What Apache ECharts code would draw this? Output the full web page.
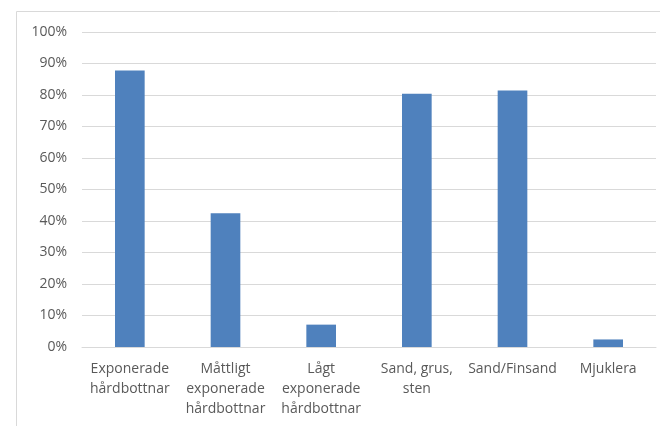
<!DOCTYPE html>
<html>
<head>
<meta charset="utf-8">
<script src="https://cdn.jsdelivr.net/npm/echarts@6/dist/echarts.min.js"></script>
<style>
  html, body { margin: 0; padding: 0; background: #fff; }
  #chart { width: 660px; height: 426px; }
</style>
</head>
<body>
<div id="chart"></div>
<script>
// Share of sampled sites per bottom type (percent)
const categories = [
  'Exponerade\nhårdbottnar',
  'Måttligt\nexponerade\nhårdbottnar',
  'Lågt\nexponerade\nhårdbottnar',
  'Sand, grus,\nsten',
  'Sand/Finsand',
  'Mjuklera'
];
const shares = [87.8, 42.5, 7.1, 80.4, 81.4, 2.4];
const yTicks = { min: 0, max: 100, interval: 10 };

const chart = echarts.init(document.getElementById('chart'), null, { renderer: 'canvas' });
const labelFont = '"Open Sans", "Noto Sans", sans-serif';

chart.setOption({
  animation: false,
  graphic: [{
    type: 'rect',
    shape: { x: 16.5, y: 11.5, width: 700, height: 500 },
    style: { fill: 'none', stroke: '#d9d9d9', lineWidth: 1 },
    silent: true, z: -1
  }],
  grid: { left: 82, right: 4, top: 32, bottom: 79, containLabel: false },
  xAxis: {
    type: 'category',
    data: categories,
    axisLine: { show: true, lineStyle: { color: '#d9d9d9', width: 1 } },
    axisTick: { show: false },
    axisLabel: {
      color: '#595959',
      fontFamily: labelFont,
      fontSize: 14,
      lineHeight: 20,
      margin: 12,
      interval: 0,
      align: 'center'
    }
  },
  yAxis: {
    type: 'value',
    min: yTicks.min,
    max: yTicks.max,
    interval: yTicks.interval,
    axisLine: { show: false },
    axisTick: { show: false },
    splitLine: { lineStyle: { color: '#d9d9d9', width: 1 } },
    axisLabel: {
      color: '#595959',
      fontFamily: labelFont,
      fontSize: 14,
      margin: 15,
      formatter: '{value}%'
    }
  },
  series: [{
    type: 'bar',
    data: shares,
    barWidth: '31%',
    itemStyle: { color: '#4f81bd' }
  }]
});
</script>
</body>
</html>
